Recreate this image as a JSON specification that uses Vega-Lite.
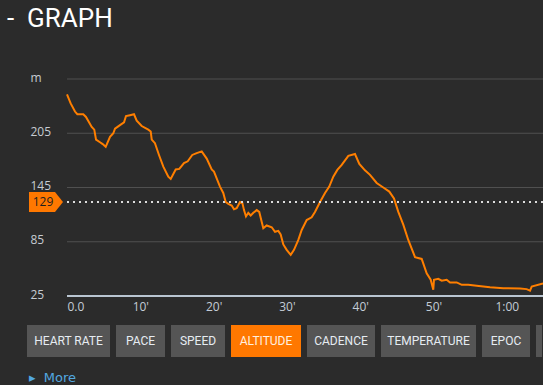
{
  "$schema": "https://vega.github.io/schema/vega-lite/v6.json",
  "background": "#2b2b2b",
  "padding": {"left": 7, "top": 6, "right": 0, "bottom": 0},
  "title": {"text": "-\u00a0\u00a0GRAPH", "anchor": "start", "dx": -20, "font": "Roboto", "fontSize": 26, "fontWeight": "normal", "color": "#ffffff", "offset": 39},
  "spacing": 13,
  "config": {"view": {"stroke": null}, "font": "Open Sans"},
  "datasets": {
    "altitude": [
      {"t": 0.0, "alt": 248}, {"t": 0.5, "alt": 238}, {"t": 1.09, "alt": 229}, {"t": 1.41, "alt": 226}, {"t": 2.22, "alt": 226},
      {"t": 2.59, "alt": 223}, {"t": 3.37, "alt": 212}, {"t": 3.72, "alt": 209}, {"t": 3.96, "alt": 198}, {"t": 4.5, "alt": 195},
      {"t": 4.87, "alt": 193}, {"t": 5.28, "alt": 190}, {"t": 5.87, "alt": 201}, {"t": 6.32, "alt": 205}, {"t": 6.55, "alt": 210},
      {"t": 7.23, "alt": 214}, {"t": 7.78, "alt": 217}, {"t": 8.05, "alt": 224}, {"t": 8.59, "alt": 225}, {"t": 9.14, "alt": 226},
      {"t": 9.51, "alt": 219}, {"t": 10.19, "alt": 213}, {"t": 11.09, "alt": 209}, {"t": 11.42, "alt": 207}, {"t": 11.56, "alt": 198},
      {"t": 12.0, "alt": 194}, {"t": 12.55, "alt": 181}, {"t": 13.14, "alt": 168}, {"t": 13.82, "alt": 157}, {"t": 14.15, "alt": 154.5},
      {"t": 14.83, "alt": 165}, {"t": 15.32, "alt": 165.6}, {"t": 15.96, "alt": 172}, {"t": 16.47, "alt": 174}, {"t": 17.09, "alt": 181},
      {"t": 17.69, "alt": 183}, {"t": 18.38, "alt": 185}, {"t": 19.06, "alt": 177}, {"t": 19.74, "alt": 165}, {"t": 20.05, "alt": 162.6},
      {"t": 20.87, "alt": 146}, {"t": 21.32, "alt": 139}, {"t": 21.65, "alt": 129}, {"t": 22.01, "alt": 127}, {"t": 22.47, "alt": 125},
      {"t": 22.78, "alt": 121}, {"t": 23.15, "alt": 122}, {"t": 23.6, "alt": 129}, {"t": 23.92, "alt": 128}, {"t": 24.15, "alt": 120},
      {"t": 24.42, "alt": 113}, {"t": 24.73, "alt": 117}, {"t": 25.06, "alt": 114}, {"t": 25.42, "alt": 117}, {"t": 25.88, "alt": 120},
      {"t": 26.23, "alt": 118}, {"t": 26.56, "alt": 107}, {"t": 26.78, "alt": 100}, {"t": 27.24, "alt": 103}, {"t": 27.93, "alt": 101},
      {"t": 28.38, "alt": 96}, {"t": 28.83, "alt": 97}, {"t": 29.15, "alt": 93}, {"t": 29.51, "alt": 82}, {"t": 29.97, "alt": 76},
      {"t": 30.52, "alt": 70.5}, {"t": 30.97, "alt": 76}, {"t": 31.56, "alt": 87}, {"t": 32.02, "alt": 98}, {"t": 32.7, "alt": 109},
      {"t": 33.38, "alt": 112}, {"t": 33.83, "alt": 118}, {"t": 34.52, "alt": 129}, {"t": 35.2, "alt": 139}, {"t": 35.78, "alt": 146},
      {"t": 36.33, "alt": 157}, {"t": 36.88, "alt": 164.5}, {"t": 37.48, "alt": 170}, {"t": 38.38, "alt": 180}, {"t": 39.29, "alt": 182},
      {"t": 39.88, "alt": 171}, {"t": 40.65, "alt": 164}, {"t": 41.34, "alt": 159}, {"t": 42.25, "alt": 150}, {"t": 43.15, "alt": 145},
      {"t": 43.97, "alt": 140.5}, {"t": 44.61, "alt": 133}, {"t": 45.2, "alt": 118}, {"t": 45.88, "alt": 104}, {"t": 46.56, "alt": 87},
      {"t": 47.48, "alt": 68}, {"t": 48.39, "alt": 66}, {"t": 49.07, "alt": 50}, {"t": 49.62, "alt": 43}, {"t": 49.97, "alt": 32},
      {"t": 50.07, "alt": 43}, {"t": 50.65, "alt": 44}, {"t": 51.12, "alt": 42}, {"t": 51.8, "alt": 43}, {"t": 52.25, "alt": 40},
      {"t": 53.17, "alt": 40}, {"t": 53.85, "alt": 37.4}, {"t": 54.75, "alt": 37.4}, {"t": 55.89, "alt": 36.3}, {"t": 57.71, "alt": 34.8},
      {"t": 59.52, "alt": 33.7}, {"t": 61.8, "alt": 33.3}, {"t": 62.71, "alt": 32.6}, {"t": 63.17, "alt": 31}, {"t": 63.4, "alt": 35.5},
      {"t": 64.94, "alt": 39}
    ],
    "grid": [{"alt": 85}, {"alt": 145}, {"alt": 205}, {"alt": 265}],
    "marker": [{"alt": 129}],
    "buttons": [
      {"label": "HEART RATE"},
      {"label": "PACE"},
      {"label": "SPEED"},
      {"label": "ALTITUDE"},
      {"label": "CADENCE"},
      {"label": "TEMPERATURE"},
      {"label": "EPOC"}
    ]
  },
  "vconcat": [
    {
      "width": 516,
      "height": 217,
      "layer": [
        {
          "data": {"name": "grid"},
          "mark": {"type": "rule", "color": "#505050", "strokeWidth": 1},
          "encoding": {
            "y": {"field": "alt", "type": "quantitative"},
            "x": {"datum": 0, "type": "quantitative"},
            "x2": {"datum": 64.94}
          }
        },
        {
          "data": {"name": "altitude"},
          "mark": {"type": "line", "color": "#ff7f00", "strokeWidth": 2},
          "encoding": {
            "x": {"field": "t", "type": "quantitative", "scale": {"domain": [-5.457, 64.94], "nice": false, "zero": false},
              "axis": {"values": [0, 10, 20, 30, 40, 50, 60], "title": null, "grid": false, "ticks": false, "tickSize": 0, "domain": false,
                "labelExpr": "datum.value == 0 ? '0.0' : datum.value == 60 ? '1:00' : datum.value + \"'\"",
                "labelAlign": {"condition": {"test": "datum.value == 0", "value": "left"}, "value": "center"},
                "labelPadding": 5, "labelColor": "#c3ccd6", "labelFontSize": 12, "labelFont": "Open Sans"}},
            "y": {"field": "alt", "type": "quantitative", "scale": {"domain": [25, 265], "nice": false, "zero": false},
              "axis": {"values": [25, 85, 145, 205, 265], "title": null, "grid": false,
                "domain": false, "ticks": false, "tickSize": 0, "labelAlign": "left", "labelPadding": -3,
                "labelBaseline": "alphabetic", "labelOffset": 2,
                "labelExpr": "datum.value == 265 ? 'm' : datum.label",
                "labelColor": "#c6ccd2", "labelFontSize": 12, "labelFont": "Open Sans"}}
          }
        },
        {
          "data": {"name": "marker"},
          "mark": {"type": "rule", "color": "#b9c5d1", "strokeWidth": 2},
          "encoding": {"y": {"datum": 25, "type": "quantitative"}, "x": {"datum": 0, "type": "quantitative"}, "x2": {"datum": 64.94}}
        },
        {
          "data": {"name": "marker"},
          "mark": {"type": "rule", "color": "#dcdcdc", "strokeWidth": 2, "strokeDash": [2, 4]},
          "encoding": {"y": {"field": "alt", "type": "quantitative"}, "x": {"datum": 0, "type": "quantitative"}, "x2": {"datum": 64.94}}
        },
        {
          "data": {"name": "marker"},
          "mark": {"type": "point", "shape": "M-3.8,-1L-1.2,-1L-0.4,0L-1.2,1L-3.8,1Z", "size": 400, "filled": true, "fill": "#ff7800", "opacity": 1, "strokeWidth": 0},
          "encoding": {"x": {"datum": 0, "type": "quantitative"}, "y": {"field": "alt", "type": "quantitative"}}
        },
        {
          "data": {"name": "marker"},
          "mark": {"type": "text", "dx": -24, "align": "center", "baseline": "middle", "fontSize": 12, "font": "Open Sans", "color": "#1e1e1e"},
          "encoding": {"x": {"datum": 0, "type": "quantitative"}, "y": {"field": "alt", "type": "quantitative"}, "text": {"field": "alt", "type": "quantitative"}}
        }
      ]
    },
    {
      "title": {"text": "▸\u00a0\u00a0More", "orient": "bottom", "anchor": "start", "font": "DejaVu Sans", "fontSize": 13, "fontWeight": "normal", "color": "#52a8e0", "offset": 15, "dx": 2},
      "spacing": 6,
      "hconcat": [
        {"width": 83, "height": 32, "view": {"fill": "#555555", "stroke": null}, "data": {"name": "buttons"}, "transform": [{"filter": "datum.label == 'HEART RATE'"}],
          "mark": {"type": "text", "font": "Roboto", "fontSize": 12, "color": "#e6ecf2"}, "encoding": {"text": {"field": "label"}}},
        {"width": 49, "height": 32, "view": {"fill": "#555555", "stroke": null}, "data": {"name": "buttons"}, "transform": [{"filter": "datum.label == 'PACE'"}],
          "mark": {"type": "text", "font": "Roboto", "fontSize": 12, "color": "#e6ecf2"}, "encoding": {"text": {"field": "label"}}},
        {"width": 54, "height": 32, "view": {"fill": "#555555", "stroke": null}, "data": {"name": "buttons"}, "transform": [{"filter": "datum.label == 'SPEED'"}],
          "mark": {"type": "text", "font": "Roboto", "fontSize": 12, "color": "#e6ecf2"}, "encoding": {"text": {"field": "label"}}},
        {"width": 70, "height": 32, "view": {"fill": "#ff7800", "stroke": null}, "data": {"name": "buttons"}, "transform": [{"filter": "datum.label == 'ALTITUDE'"}],
          "mark": {"type": "text", "font": "Roboto", "fontSize": 12, "color": "#fff0e0"}, "encoding": {"text": {"field": "label"}}},
        {"width": 68, "height": 32, "view": {"fill": "#555555", "stroke": null}, "data": {"name": "buttons"}, "transform": [{"filter": "datum.label == 'CADENCE'"}],
          "mark": {"type": "text", "font": "Roboto", "fontSize": 12, "color": "#e6ecf2"}, "encoding": {"text": {"field": "label"}}},
        {"width": 95, "height": 32, "view": {"fill": "#555555", "stroke": null}, "data": {"name": "buttons"}, "transform": [{"filter": "datum.label == 'TEMPERATURE'"}],
          "mark": {"type": "text", "font": "Roboto", "fontSize": 12, "color": "#e6ecf2"}, "encoding": {"text": {"field": "label"}}},
        {"width": 48, "height": 32, "view": {"fill": "#555555", "stroke": null}, "data": {"name": "buttons"}, "transform": [{"filter": "datum.label == 'EPOC'"}],
          "mark": {"type": "text", "font": "Roboto", "fontSize": 12, "color": "#e6ecf2"}, "encoding": {"text": {"field": "label"}}},
        {"width": 6, "height": 32, "view": {"fill": "#555555", "stroke": null}, "data": {"values": []},
          "mark": {"type": "text", "font": "Roboto", "fontSize": 12, "color": "#e6ecf2"}, "encoding": {"text": {"field": "label"}}}
      ]
    }
  ]
}
